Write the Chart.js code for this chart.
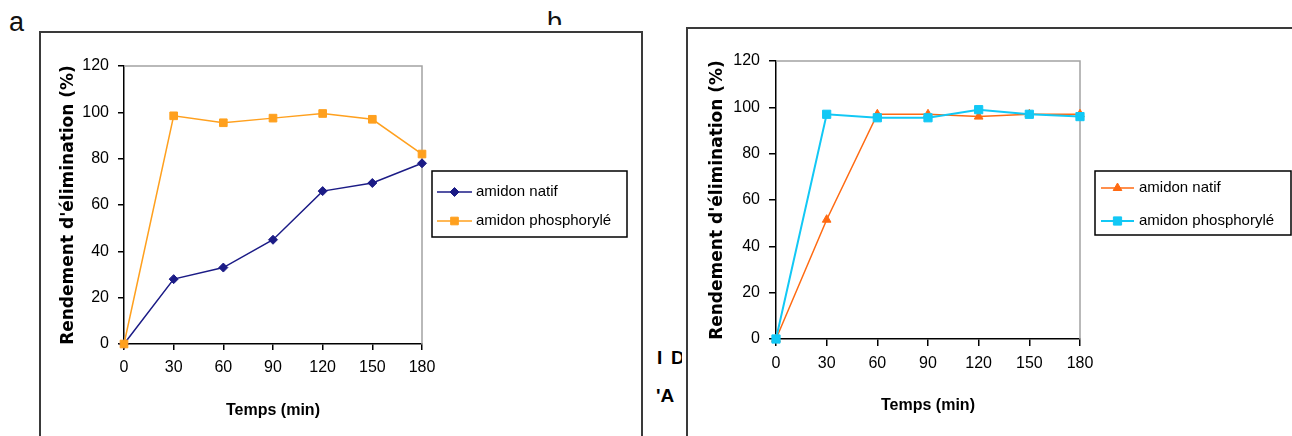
<!DOCTYPE html>
<html><head><meta charset="utf-8">
<script src="https://cdn.jsdelivr.net/npm/chart.js"></script>
<style>
html,body{margin:0;padding:0;background:#fff;width:1292px;height:436px;overflow:hidden;position:relative}
.frame{position:absolute;border:2px solid #3a3a3a;box-sizing:border-box}
canvas{position:absolute}
.lbl{position:absolute;font-family:'Liberation Sans',Arial,sans-serif;font-size:27px;line-height:1;color:#111;white-space:pre}
.clip{position:absolute;overflow:hidden}
.frag{position:absolute;font-family:'Liberation Sans',Arial,sans-serif;font-weight:bold;font-size:19px;line-height:1;white-space:pre;color:#000}
</style></head><body>
<div class="frame" style="left:39px;top:31px;width:604px;height:440px"></div>
<div class="frame" style="left:686px;top:27px;width:640px;height:440px"></div>
<div class="lbl" style="left:9px;top:9px">a</div>
<div class="clip" style="left:540px;top:0;width:40px;height:25px"><div class="lbl" style="left:7px;top:9px">b</div></div>
<div class="clip" style="left:655px;top:340px;width:27px;height:70px">
  <div class="frag" style="left:2px;top:8px">I</div>
  <div class="frag" style="left:16px;top:8px">D</div>
  <div class="frag" style="left:1px;top:46px">'A</div>
</div>
<canvas id="ca" width="600" height="403" style="left:40px;top:33px;width:600px;height:403px"></canvas>
<canvas id="cb" width="604" height="407" style="left:688px;top:29px;width:604px;height:407px"></canvas>
<script>
// ---- data ----
const times = ['0', '30', '60', '90', '120', '150', '180'];
const yTickValues = [0, 20, 40, 60, 80, 100, 120];
const seriesNames = ['amidon natif', 'amidon phosphorylé'];
const aNatif = [0, 28, 33, 45, 66, 69.5, 78];
const aPhos  = [0, 98.5, 95.5, 97.5, 99.5, 97, 82];
const bNatif = [0, 51.5, 97, 97, 96, 97, 97];
const bPhos  = [0, 97, 95.5, 95.5, 99, 97, 96];
const xTitle = 'Temps (min)';
const yTitle = "Rendement d'élimination (%)";

const TICK_FONT = {family: "'Liberation Sans',Arial,sans-serif", size: 16};

function marker(ctx, style, r, x, y) {
  ctx.beginPath();
  if (style === 'rect') {
    const s = Math.SQRT1_2 * r;
    ctx.rect(x - s, y - s, 2 * s, 2 * s);
  } else if (style === 'rectRot') {
    ctx.moveTo(x - r, y); ctx.lineTo(x, y - r); ctx.lineTo(x + r, y); ctx.lineTo(x, y + r); ctx.closePath();
  } else if (style === 'triangle') {
    let a = 0;
    ctx.moveTo(x + Math.sin(a) * r, y - Math.cos(a) * r);
    a += 2 * Math.PI / 3; ctx.lineTo(x + Math.sin(a) * r, y - Math.cos(a) * r);
    a += 2 * Math.PI / 3; ctx.lineTo(x + Math.sin(a) * r, y - Math.cos(a) * r);
    ctx.closePath();
  }
  ctx.fill(); ctx.stroke();
}

const plotFrame = {
  id: 'plotFrame',
  beforeDatasetsDraw(chart) {
    const {ctx, chartArea: {left, top, right, bottom}} = chart;
    ctx.save();
    ctx.strokeStyle = '#a3a3a3'; ctx.lineWidth = 1.5;
    ctx.beginPath(); ctx.moveTo(left, top); ctx.lineTo(right, top); ctx.lineTo(right, bottom); ctx.stroke();
    ctx.restore();
  }
};

const boxLegend = {
  id: 'boxLegend',
  afterDraw(chart, args, o) {
    const ctx = chart.ctx;
    ctx.save();
    ctx.lineWidth = 1.5; ctx.strokeStyle = '#000';
    ctx.strokeRect(o.x, o.y, o.w, o.h);
    chart.data.datasets.forEach((ds, i) => {
      const cy = o.rowY[i];
      ctx.strokeStyle = ds.borderColor; ctx.lineWidth = ds.borderWidth;
      ctx.beginPath(); ctx.moveTo(o.lineX0, cy); ctx.lineTo(o.lineX1, cy); ctx.stroke();
      ctx.fillStyle = ds.pointBackgroundColor; ctx.strokeStyle = ds.pointBorderColor; ctx.lineWidth = 1;
      marker(ctx, ds.pointStyle, ds.pointRadius, (o.lineX0 + o.lineX1) / 2, cy);
      ctx.fillStyle = '#000'; ctx.font = o.font; ctx.textBaseline = 'middle'; ctx.textAlign = 'left';
      ctx.fillText(ds.label, o.textX, cy);
    });
    ctx.restore();
  }
};

function dataset(label, data, color, style, r, width, order) {
  return {
    label, data, order,
    borderColor: color, backgroundColor: color,
    pointBackgroundColor: color, pointBorderColor: color,
    pointStyle: style, pointRadius: r, pointBorderWidth: 1,
    borderWidth: width, tension: 0, clip: false, fill: false
  };
}

function build(id, p, datasets) {
  return new Chart(document.getElementById(id), {
    type: 'line',
    data: {labels: times, datasets},
    options: {
      responsive: false, animation: false, events: [], devicePixelRatio: 1,
      layout: {padding: p.pad},
      plugins: {legend: {display: false}, tooltip: {enabled: false}, boxLegend: p.legend},
      scales: {
        x: {
          type: 'category', offset: false,
          grid: {display: true, drawOnChartArea: false, drawTicks: true, tickLength: p.tickLen, color: '#000', lineWidth: 1.5},
          border: {display: true, color: '#000', width: 1.5},
          ticks: {font: TICK_FONT, color: '#000', padding: p.xPad, maxRotation: 0, autoSkip: false},
          title: {display: true, text: xTitle, color: '#000',
                  font: {family: "'Liberation Sans',Arial,sans-serif", size: 16, weight: 'bold'},
                  padding: {top: 0, bottom: p.xTitlePad}},
          afterFit(s) { s.height = p.xH; }
        },
        y: {
          min: 0, max: 120,
          afterBuildTicks(s) { s.ticks = yTickValues.map(v => ({value: v})); },
          grid: {display: true, drawOnChartArea: false, drawTicks: true, tickLength: p.tickLen, color: '#000', lineWidth: 1.5},
          border: {display: true, color: '#000', width: 1.5},
          ticks: {font: TICK_FONT, color: '#000', padding: p.yPad},
          title: {display: true, text: yTitle, color: '#000',
                  font: {family: "'DejaVu Sans','Liberation Sans',sans-serif", size: 17, weight: 'bold'},
                  padding: {top: 3, bottom: 0}},
          afterFit(s) { s.width = p.yW; }
        }
      }
    },
    plugins: [plotFrame, boxLegend]
  });
}

build('ca', {
  pad: {left: 15, right: 218, top: 33, bottom: 0},
  yW: 69, xH: 92, tickLen: 6, xPad: 8, yPad: 9, xTitlePad: 16,
  legend: {x: 392, y: 138, w: 195, h: 66, lineX0: 397, lineX1: 432, textX: 436, rowY: [159, 188],
           font: "15px 'Liberation Sans', Arial, sans-serif"}
}, [
  dataset(seriesNames[0], aNatif, '#1b1b86', 'rectRot', 4.5, 1.5, 1),
  dataset(seriesNames[1], aPhos, '#ffa01e', 'rect', 5.4, 1.5, 0)
]);

build('cb', {
  pad: {left: 16, right: 212, top: 32, bottom: 0},
  yW: 72, xH: 97, tickLen: 7, xPad: 8, yPad: 9, xTitlePad: 21,
  legend: {x: 407, y: 142, w: 196, h: 64, lineX0: 413, lineX1: 446, textX: 451, rowY: [159, 192],
           font: "15px 'Liberation Sans', Arial, sans-serif"}
}, [
  dataset(seriesNames[0], bNatif, '#ff6a12', 'triangle', 5, 1.5, 1),
  dataset(seriesNames[1], bPhos, '#12c8f5', 'rect', 5.8, 2, 0)
]);
</script>
</body></html>
